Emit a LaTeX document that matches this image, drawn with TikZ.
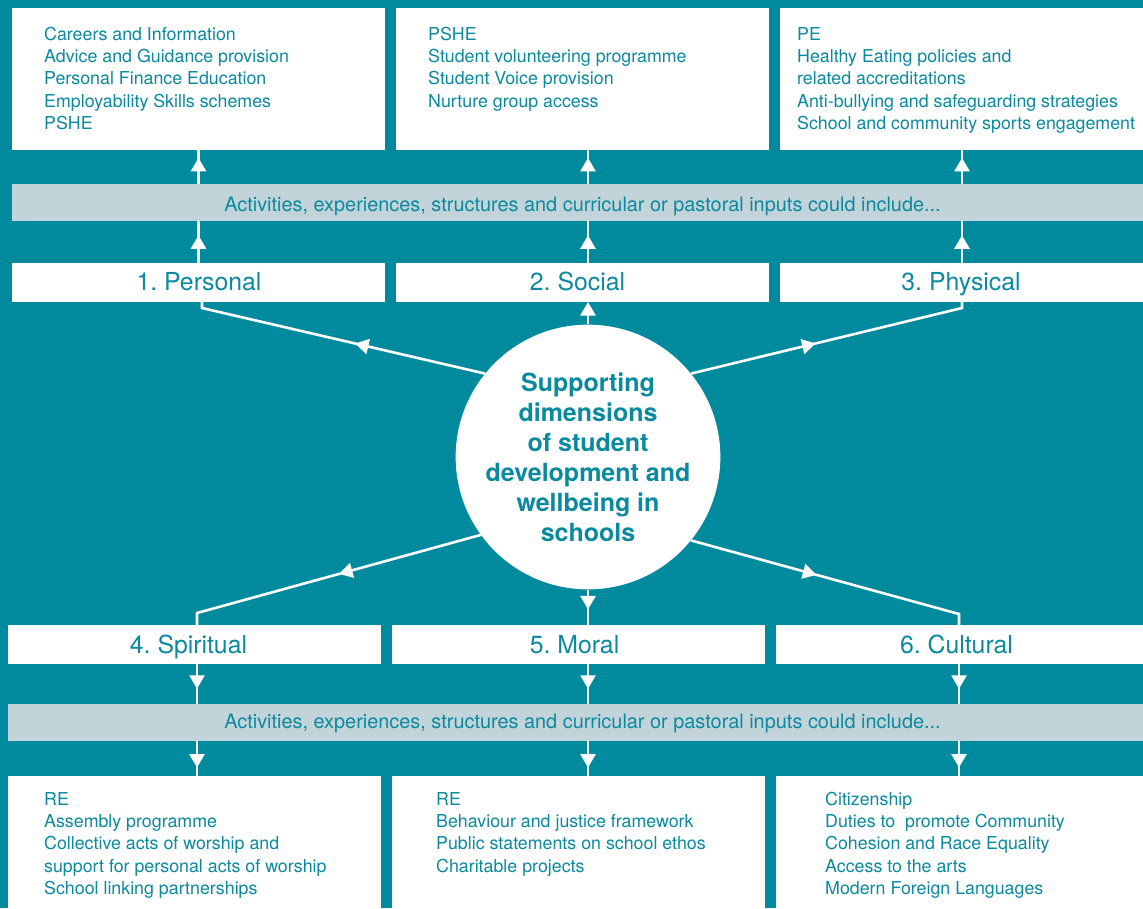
\documentclass[tikz,border=0pt]{standalone}
\usepackage{fontspec}
\setmainfont{TeX Gyre Heros}
\usetikzlibrary{arrows.meta,decorations.markings}
\definecolor{bgteal}{RGB}{0,138,158}
\definecolor{txteal}{RGB}{10,138,158}
\definecolor{bandgray}{RGB}{194,211,217}
\frenchspacing
\begin{document}
\begin{tikzpicture}[x=1pt,y=-1pt,
  wbox/.style={fill=white, inner sep=0pt, outer sep=0pt, anchor=north west},
  gband/.style={fill=bandgray, inner sep=0pt, outer sep=0pt, anchor=north west, minimum width=1135pt, minimum height=37pt},
  ctext/.style={anchor=base west, inner sep=0pt, text=txteal, font=\fontsize{17.8}{22.4}\selectfont},
  btext/.style={anchor=base, inner sep=0pt, text=txteal, font=\fontsize{19.9}{24}\selectfont},
  ltext/.style={anchor=base, inner sep=0pt, text=txteal, font=\fontsize{24.8}{30}\selectfont},
  conn/.style={draw=white, line width=2.6pt},
  tip/.style={-{Triangle[width=15pt,length=13.5pt]}},
  midarrow/.style={postaction={decorate,decoration={markings,mark=at position #1 with {\arrow{Triangle[width=15pt,length=13.5pt]}}}}}
]
\fill[bgteal] (0,0) rectangle (1143,908);
\useasboundingbox (0,0) rectangle (1143,908);

% top content boxes
\node[wbox, minimum width=373pt, minimum height=142pt] (pc) at (12,8) {};
\node[wbox, minimum width=373pt, minimum height=142pt] (sc) at (396,8) {};
\node[wbox, minimum width=363pt, minimum height=142pt] (phc) at (780,8) {};
\node[ctext] (pct) at (44,40) {\parbox[t]{330pt}{Careers and Information\\Advice and Guidance provision\\Personal Finance Education\\Employability Skills schemes\\PSHE}};
\node[ctext] (sct) at (428,40) {\parbox[t]{330pt}{PSHE\\Student volunteering programme\\Student Voice provision\\Nurture group access}};
\node[ctext] (phct) at (797,40) {\parbox[t]{345pt}{PE\\Healthy Eating policies and\\related accreditations\\Anti-bullying and safeguarding strategies\\School and community sports engagement}};

% top band
\node[gband, minimum width=1131pt] (band1) at (12,184) {};
\node[btext] (band1t) at (582.5,211) {Activities, experiences, structures and curricular or pastoral inputs could include...};

% top labels
\node[wbox, minimum width=373pt, minimum height=39pt] (lp) at (12,263) {};
\node[wbox, minimum width=373pt, minimum height=39pt] (ls) at (396,263) {};
\node[wbox, minimum width=363pt, minimum height=39pt] (lph) at (780,263) {};
\node[ltext] (lpt) at (199,290) {1. Personal};
\node[ltext] (lst) at (577.5,290) {2. Social};
\node[ltext] (lpht) at (961,290) {3. Physical};

% bottom labels
\node[wbox, minimum width=373pt, minimum height=39pt] (lsp) at (8,625) {};
\node[wbox, minimum width=373pt, minimum height=39pt] (lm) at (392,625) {};
\node[wbox, minimum width=367pt, minimum height=39pt] (lcu) at (776,625) {};
\node[ltext] (lspt) at (188.5,653) {4. Spiritual};
\node[ltext] (lmt) at (574.5,653) {5. Moral};
\node[ltext] (lcut) at (956.5,653) {6. Cultural};

% bottom band
\node[gband] (band2) at (8,704) {};
\node[btext] (band2t) at (582.5,728) {Activities, experiences, structures and curricular or pastoral inputs could include...};

% bottom content boxes
\node[wbox, minimum width=373pt, minimum height=132pt] (spc) at (8,776) {};
\node[wbox, minimum width=373pt, minimum height=132pt] (mc) at (392,776) {};
\node[wbox, minimum width=367pt, minimum height=132pt] (cuc) at (776,776) {};
\node[ctext] (spct) at (44,805) {\parbox[t]{330pt}{RE\\Assembly programme\\Collective acts of worship and\\support for personal acts of worship\\School linking partnerships}};
\node[ctext] (mct) at (436,805) {\parbox[t]{320pt}{RE\\Behaviour and justice framework\\Public statements on school ethos\\Charitable projects}};
\node[ctext] (cuct) at (825,805) {\parbox[t]{310pt}{Citizenship\\Duties to\ \ promote Community\\Cohesion and Race Equality\\Access to the arts\\Modern Foreign Languages}};

% central circle
\node[circle, fill=white, minimum size=260pt, inner sep=0pt, text=txteal, align=center,
      font=\bfseries\fontsize{25}{30}\selectfont] (circ) at (588,457)
  {Supporting\\dimensions\\of student\\development and\\wellbeing in\\schools};

% stub points
\coordinate (kp) at (202,308);
\coordinate (kph) at (962,308);
\coordinate (ksp) at (197,613);
\coordinate (kcu) at (959,614);

% connectors from the circle
\draw[conn, midarrow=0.45] (circ.141) -- (kp) -- (kp |- lp.south);
\draw[conn, tip] (circ.north) -- (circ.north |- ls.south);
\draw[conn, midarrow=0.45] (circ.39) -- (kph) -- (kph |- lph.south);
\draw[conn, midarrow=0.48] (circ.216) -- (ksp) -- (ksp |- lsp.north);
\draw[conn, midarrow=0.56] (circ.south) -- (circ.south |- lm.north);
\draw[conn, midarrow=0.45] (circ.321) -- (kcu) -- (kcu |- lcu.north);

% vertical arrows top
\draw[conn, midarrow=0.66] (lp.north) -- (lp.north |- band1.south);
\draw[conn, midarrow=0.77] (lp.north |- band1.north) -- (pc.south);
\draw[conn, midarrow=0.66] (circ.north |- ls.north) -- (circ.north |- band1.south);
\draw[conn, midarrow=0.77] (circ.north |- band1.north) -- (circ.north |- sc.south);
\draw[conn, midarrow=0.66] (kph |- lph.north) -- (kph |- band1.south);
\draw[conn, midarrow=0.77] (kph |- band1.north) -- (kph |- phc.south);

% vertical arrows bottom
\draw[conn, midarrow=0.62] (ksp |- lsp.south) -- (ksp |- band2.north);
\draw[conn, midarrow=0.76] (ksp |- band2.south) -- (ksp |- spc.north);
\draw[conn, midarrow=0.62] (circ.south |- lm.south) -- (circ.south |- band2.north);
\draw[conn, midarrow=0.76] (circ.south |- band2.south) -- (circ.south |- mc.north);
\draw[conn, midarrow=0.62] (kcu |- lcu.south) -- (kcu |- band2.north);
\draw[conn, midarrow=0.76] (kcu |- band2.south) -- (kcu |- cuc.north);
\end{tikzpicture}
\end{document}
